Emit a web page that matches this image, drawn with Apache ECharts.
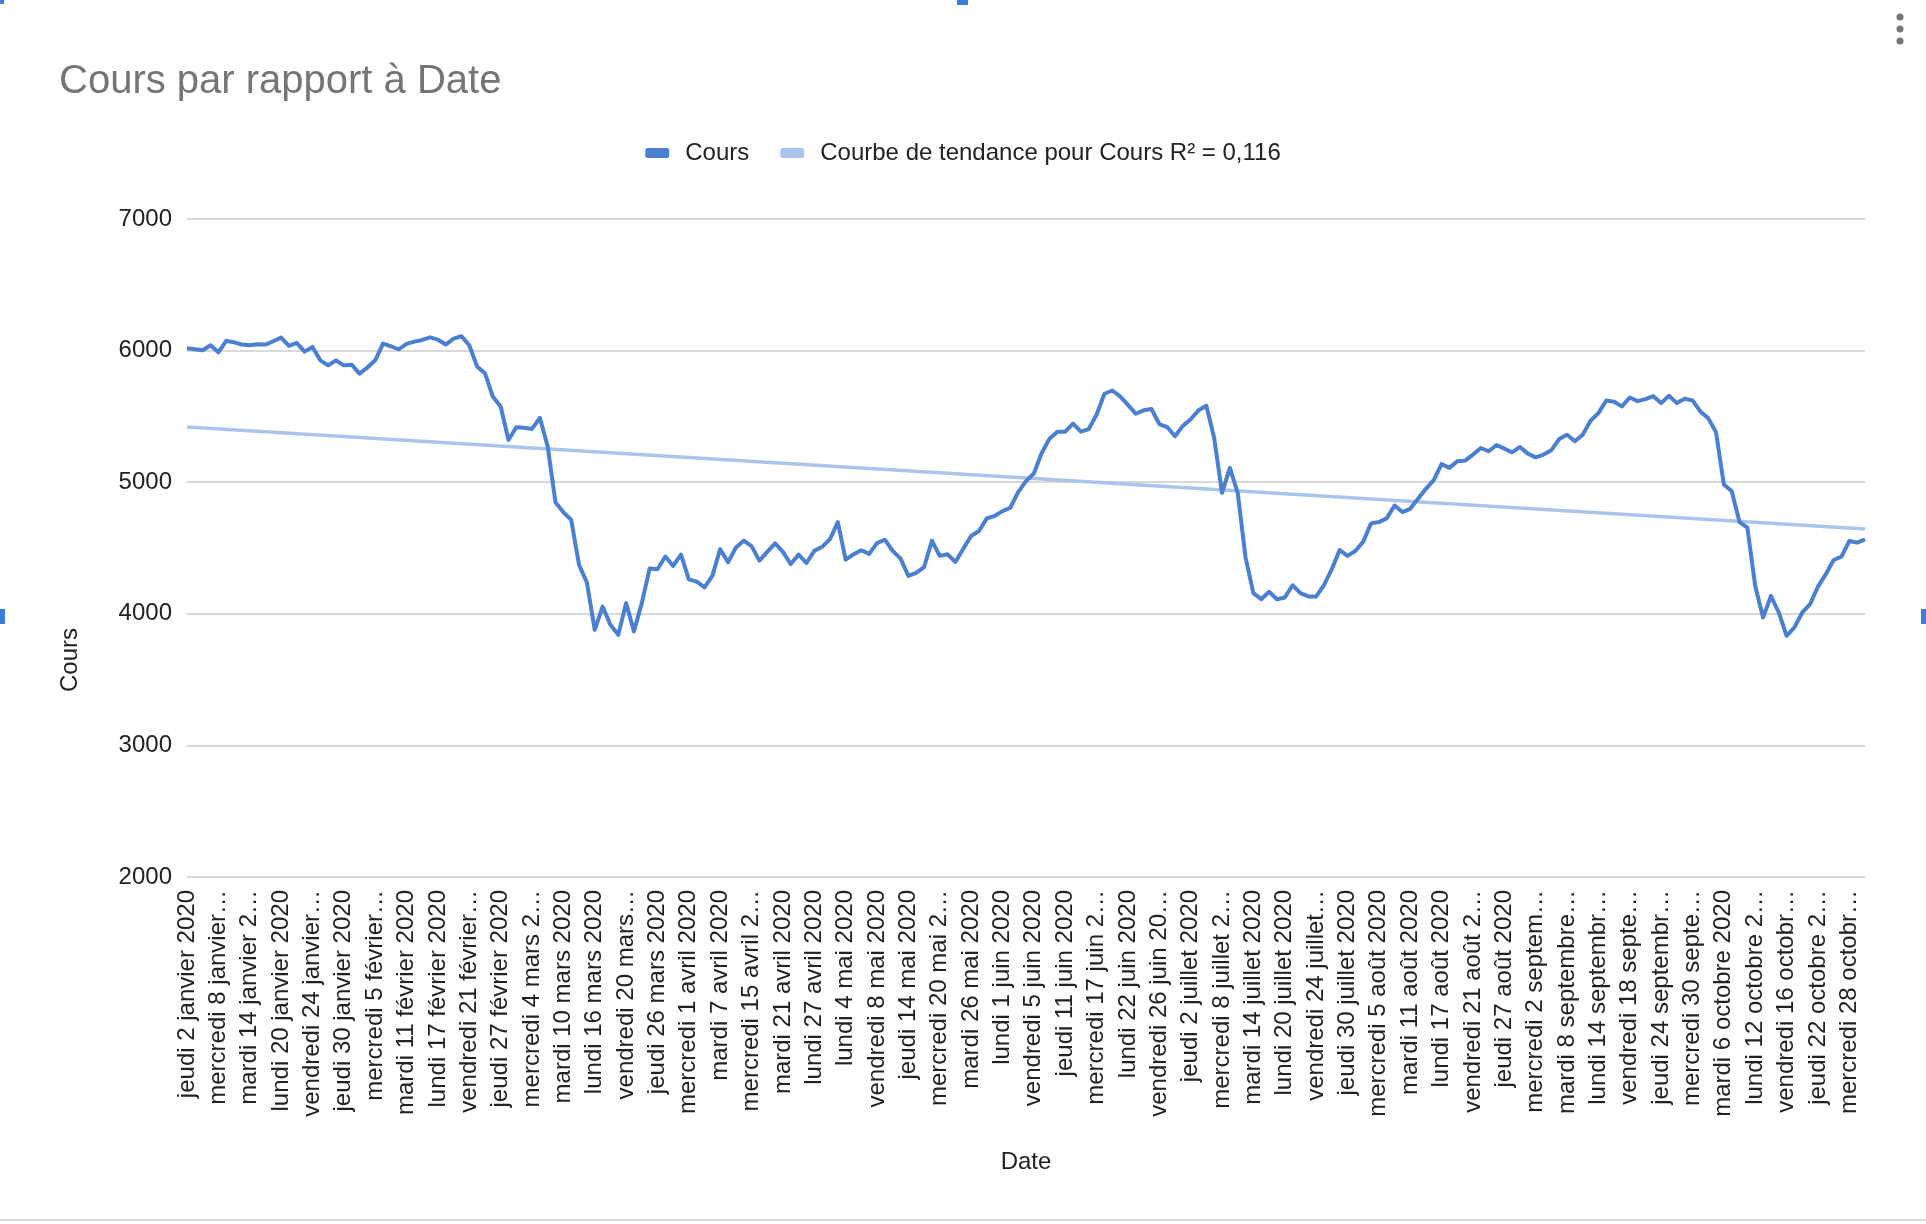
<!DOCTYPE html>
<html>
<head>
<meta charset="utf-8">
<title>Cours par rapport à Date</title>
<script src="https://cdn.jsdelivr.net/npm/echarts@6/dist/echarts.min.js"></script>
<style>
  html, body { margin: 0; padding: 0; background: #ffffff; }
  #chart { width: 1926px; height: 1224px; }
</style>
</head>
<body>
<div id="chart"></div>
<script>
// ---- Data ----
const dates = [
  "2020-01-02","2020-01-03","2020-01-06","2020-01-07","2020-01-08","2020-01-09","2020-01-10","2020-01-13","2020-01-14","2020-01-15","2020-01-16","2020-01-17","2020-01-20","2020-01-21","2020-01-22","2020-01-23","2020-01-24","2020-01-27","2020-01-28","2020-01-29","2020-01-30","2020-01-31",
  "2020-02-03","2020-02-04","2020-02-05","2020-02-06","2020-02-07","2020-02-10","2020-02-11","2020-02-12","2020-02-13","2020-02-14","2020-02-17","2020-02-18","2020-02-19","2020-02-20","2020-02-21","2020-02-24","2020-02-25","2020-02-26","2020-02-27","2020-02-28",
  "2020-03-02","2020-03-03","2020-03-04","2020-03-05","2020-03-06","2020-03-09","2020-03-10","2020-03-11","2020-03-12","2020-03-13","2020-03-16","2020-03-17","2020-03-18","2020-03-19","2020-03-20","2020-03-23","2020-03-24","2020-03-25","2020-03-26","2020-03-27","2020-03-30","2020-03-31",
  "2020-04-01","2020-04-02","2020-04-03","2020-04-06","2020-04-07","2020-04-08","2020-04-09","2020-04-14","2020-04-15","2020-04-16","2020-04-17","2020-04-20","2020-04-21","2020-04-22","2020-04-23","2020-04-24","2020-04-27","2020-04-28","2020-04-29","2020-04-30",
  "2020-05-04","2020-05-05","2020-05-06","2020-05-07","2020-05-08","2020-05-11","2020-05-12","2020-05-13","2020-05-14","2020-05-15","2020-05-18","2020-05-19","2020-05-20","2020-05-21","2020-05-22","2020-05-25","2020-05-26","2020-05-27","2020-05-28","2020-05-29",
  "2020-06-01","2020-06-02","2020-06-03","2020-06-04","2020-06-05","2020-06-08","2020-06-09","2020-06-10","2020-06-11","2020-06-12","2020-06-15","2020-06-16","2020-06-17","2020-06-18","2020-06-19","2020-06-20","2020-06-22","2020-06-23","2020-06-24","2020-06-25","2020-06-26","2020-06-29","2020-06-30",
  "2020-07-01","2020-07-02","2020-07-03","2020-07-06","2020-07-07","2020-07-08","2020-07-09","2020-07-10","2020-07-13","2020-07-14","2020-07-15","2020-07-16","2020-07-17","2020-07-20","2020-07-21","2020-07-22","2020-07-23","2020-07-24","2020-07-27","2020-07-28","2020-07-29","2020-07-30","2020-07-31",
  "2020-08-03","2020-08-04","2020-08-05","2020-08-06","2020-08-07","2020-08-10","2020-08-11","2020-08-12","2020-08-13","2020-08-14","2020-08-17","2020-08-18","2020-08-19","2020-08-20","2020-08-21","2020-08-24","2020-08-25","2020-08-26","2020-08-27","2020-08-28","2020-08-31",
  "2020-09-01","2020-09-02","2020-09-03","2020-09-04","2020-09-07","2020-09-08","2020-09-09","2020-09-10","2020-09-11","2020-09-14","2020-09-15","2020-09-16","2020-09-17","2020-09-18","2020-09-21","2020-09-22","2020-09-23","2020-09-24","2020-09-25","2020-09-28","2020-09-29","2020-09-30",
  "2020-10-01","2020-10-02","2020-10-05","2020-10-06","2020-10-07","2020-10-08","2020-10-09","2020-10-12","2020-10-13","2020-10-14","2020-10-15","2020-10-16","2020-10-19","2020-10-20","2020-10-21","2020-10-22","2020-10-23","2020-10-26","2020-10-27","2020-10-28","2020-10-29","2020-10-30"
];

const cours = [
  6018,6010,6003,6041,5987,6074,6063,6046,6041,6048,6046,6071,6099,6036,6058,5992,6028,5926,5888,5926,5888,5893,
  5825,5871,5926,6053,6033,6010,6051,6068,6081,6101,6083,6046,6091,6109,6041,5878,5828,5651,5575,5321,
  5418,5413,5405,5489,5271,4845,4772,4714,4372,4238,3878,4055,3916,3840,4081,3866,4081,4344,4339,4435,4364,4450,
  4262,4244,4200,4288,4491,4391,4504,4555,4514,4404,4470,4535,4470,4378,4450,4386,4478,4509,4568,4697,
  4411,4452,4483,4455,4537,4563,4478,4419,4288,4311,4355,4555,4440,4452,4394,4495,4591,4629,4725,4743,
  4780,4806,4924,5008,5066,5222,5331,5384,5384,5445,5384,5404,5513,5672,5697,5652,5588,5520,5546,5556,5442,5419,5349,
  5428,5478,5546,5581,5336,4919,5109,4919,4427,4157,4111,4167,4111,4124,4217,4157,4132,4132,4217,4339,4485,4440,4477,
  4548,4687,4697,4725,4823,4773,4798,4874,4950,5015,5137,5109,5159,5164,5210,5260,5235,5283,5255,5227,5268,
  5217,5189,5210,5243,5328,5361,5311,5361,5467,5525,5621,5611,5576,5644,5616,5631,5654,5601,5657,5601,5634,5622,
  5538,5487,5379,4982,4932,4697,4654,4212,3972,4136,4010,3833,3897,4010,4073,4207,4301,4409,4434,4553,4541,4566
];

// Linear trend line, start and end values
const trendEnds = [5420, 4645];

const yTicks = [2000, 3000, 4000, 5000, 6000, 7000];

const dayNames = ["dimanche","lundi","mardi","mercredi","jeudi","vendredi","samedi"];
const monthNames = ["janvier","février","mars","avril","mai","juin","juillet","août","septembre","octobre","novembre","décembre"];

const seriesNames = ["Cours", "Courbe de tendance pour Cours R² = 0,116"];

// ---- Helpers ----
const FONT = '"Liberation Sans", Arial, Helvetica, sans-serif';
const measureCtx = document.createElement('canvas').getContext('2d');
measureCtx.font = '24px ' + FONT;

function frenchLabel(iso) {
  const p = iso.split('-').map(Number);
  const d = new Date(p[0], p[1] - 1, p[2]);
  return dayNames[d.getDay()] + ' ' + p[2] + ' ' + monthNames[p[1] - 1] + ' ' + p[0];
}
function truncate(text, maxW) {
  if (measureCtx.measureText(text).width <= maxW) return text;
  let s = text;
  while (s.length > 1) {
    s = s.slice(0, -1);
    const t = s.replace(/\s+$/, '') + '…';
    if (measureCtx.measureText(t).width <= maxW) return t;
  }
  return s;
}

const trendData = cours.map(function (_, i) {
  if (i === 0) return trendEnds[0];
  if (i === cours.length - 1) return trendEnds[1];
  return null;
});

const chart = echarts.init(document.getElementById('chart'), null, { renderer: 'canvas' });

const option = {
  animation: false,
  backgroundColor: '#ffffff',
  textStyle: { fontFamily: FONT },
  title: {
    text: 'Cours par rapport à Date',
    left: 59,
    top: 62,
    padding: 0,
    textStyle: { fontFamily: FONT, fontSize: 40, fontWeight: 'normal', color: '#757575' }
  },
  legend: {
    top: 136,
    left: 'center',
    itemWidth: 24,
    itemHeight: 10,
    itemGap: 31,
    data: [
      { name: seriesNames[0], icon: 'roundRect' },
      { name: seriesNames[1], icon: 'roundRect' }
    ],
    textStyle: { fontFamily: FONT, fontSize: 24, color: '#222222', padding: [0, 0, 0, 11] }
  },
  grid: { left: 187, right: 61, top: 219, bottom: 347, containLabel: false },
  xAxis: {
    type: 'category',
    data: dates,
    boundaryGap: false,
    name: 'Date',
    nameLocation: 'middle',
    nameGap: 273,
    nameTextStyle: { fontFamily: FONT, fontSize: 24, color: '#222222' },
    axisLine: { show: false },
    axisTick: { show: false },
    splitLine: { show: false },
    axisLabel: {
      interval: 3,
      rotate: 90,
      margin: 13,
      fontFamily: FONT,
      fontSize: 24,
      color: '#222222',
      formatter: function (v) { return truncate(frenchLabel(v), 227.5); }
    }
  },
  yAxis: {
    type: 'value',
    min: yTicks[0],
    max: yTicks[yTicks.length - 1],
    interval: yTicks[1] - yTicks[0],
    name: 'Cours',
    nameLocation: 'middle',
    nameRotate: 90,
    nameGap: 105,
    nameTextStyle: { fontFamily: FONT, fontSize: 24, color: '#222222', padding: [0, 224, 0, 0] },
    axisLine: { show: false },
    axisTick: { show: false },
    axisLabel: {
      fontFamily: FONT, fontSize: 24, color: '#222222', margin: 15,
      formatter: function (v) { return String(v); }
    },
    splitLine: { show: true, lineStyle: { color: '#cccccc', width: 1.5 } }
  },
  series: [
    {
      name: seriesNames[1],
      type: 'line',
      data: trendData,
      connectNulls: true,
      showSymbol: false,
      symbol: 'none',
      z: 1,
      color: '#aac4ec',
      lineStyle: { color: '#aac4ec', width: 3.5 }
    },
    {
      name: seriesNames[0],
      type: 'line',
      data: cours,
      showSymbol: false,
      symbol: 'none',
      z: 2,
      color: '#4a7fd1',
      lineStyle: { color: '#4a7fd1', width: 4, join: 'round' }
    }
  ],
  graphic: [
    { type: 'rect', shape: { x: 0, y: 1219, width: 1926, height: 2 }, style: { fill: '#dadce0' }, silent: true },
    { type: 'rect', shape: { x: 957, y: 0, width: 11, height: 5 }, style: { fill: '#3b7ddd' }, silent: true },
    { type: 'rect', shape: { x: 0, y: 609, width: 5, height: 15 }, style: { fill: '#3b7ddd' }, silent: true },
    { type: 'rect', shape: { x: 1921, y: 609, width: 5, height: 15 }, style: { fill: '#3b7ddd' }, silent: true },
    { type: 'rect', shape: { x: 0, y: 0, width: 4, height: 4 }, style: { fill: '#3b7ddd' }, silent: true },
    { type: 'circle', shape: { cx: 1900, cy: 17, r: 3.5 }, style: { fill: '#757575' }, silent: true },
    { type: 'circle', shape: { cx: 1900, cy: 29, r: 3.5 }, style: { fill: '#757575' }, silent: true },
    { type: 'circle', shape: { cx: 1900, cy: 41, r: 3.5 }, style: { fill: '#757575' }, silent: true }
  ]
};

chart.setOption(option);
</script>
</body>
</html>
